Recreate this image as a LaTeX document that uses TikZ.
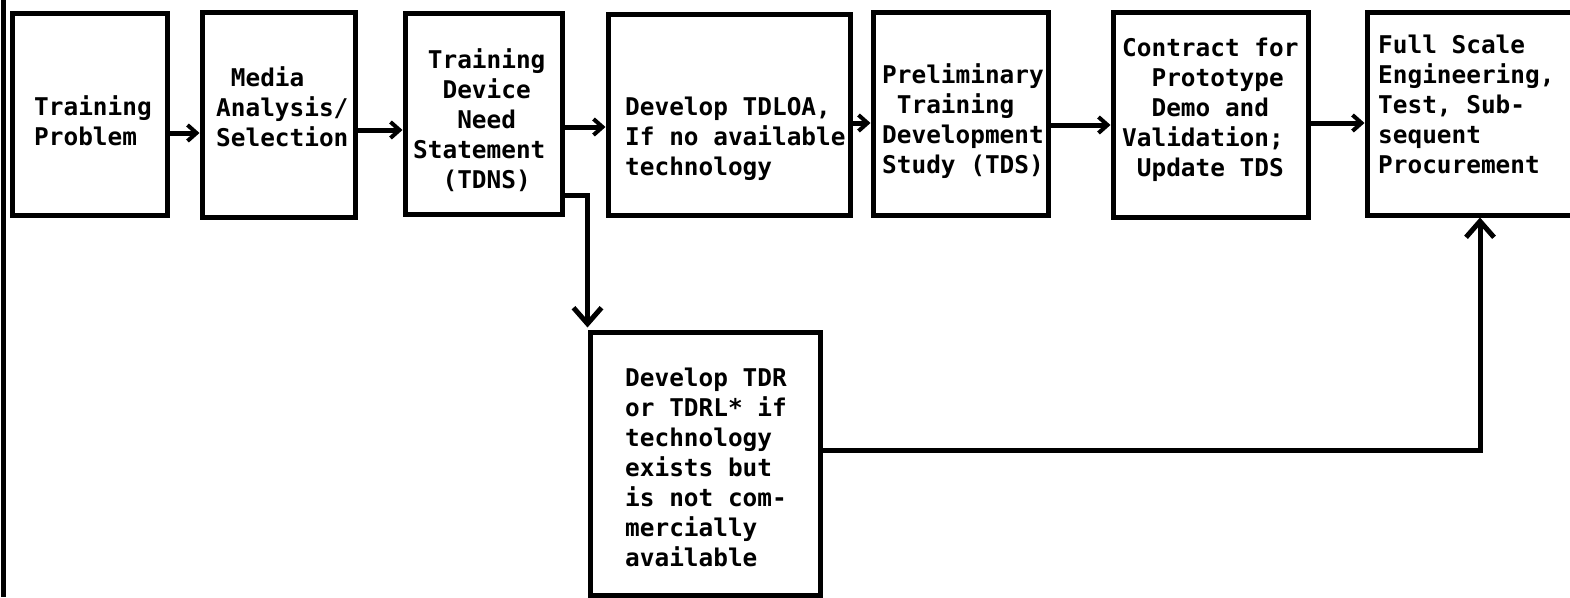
\documentclass[tikz,border=0pt]{standalone}
\usepackage{fontspec}
\newfontfamily\twfont{DejaVu Sans Mono}
\usetikzlibrary{arrows.meta}
\tikzset{
  box/.style={draw, line width=5pt, inner sep=0pt},
  txt/.style={font=\twfont\bfseries\fontsize{24.4pt}{30pt}\selectfont, align=left, inner sep=0pt, anchor=north west},
  arr/.style={line width=5pt, -{Straight Barb[length=9pt,width=16pt,line width=4pt]}},
  bigarr/.style={line width=5pt, -{Straight Barb[length=16pt,width=28pt,line width=5pt]}},
  edge/.style={line width=5pt}
}
\begin{document}
\begin{tikzpicture}[x=1pt,y=-1pt]
\useasboundingbox (0,0) rectangle (1570,597);
\clip (0,0) rectangle (1570,597);
% left margin rule
\draw[edge] (3,0) -- (3,597);
% boxes
\node[box, minimum width=155pt, minimum height=202pt] (b1) at (89.5,114) {};
\node[box, minimum width=153pt, minimum height=205pt] (b2) at (278.5,114.5) {};
\node[box, minimum width=157pt, minimum height=201pt] (b3) at (483.5,113.5) {};
\node[box, minimum width=242pt, minimum height=201pt] (b4) at (729,114.5) {};
\node[box, minimum width=175pt, minimum height=203pt] (b5) at (960.5,113.5) {};
\node[box, minimum width=195pt, minimum height=205pt] (b6) at (1210.5,114.5) {};
\node[box, minimum width=226pt, minimum height=203pt] (b7) at (1480,113.5) {};
\node[box, minimum width=230pt, minimum height=263pt] (b8) at (705,463.5) {};
% texts
\node[txt] (t1) at (34,94) {\strut Training\\Problem};
\node[txt] (t2) at (216,65) {\strut\phantom{M}Media\\Analysis/\\Selection};
\node[txt] (t3) at (413,47) {\strut\phantom{T}Training\\\phantom{TT}Device\\\phantom{TTT}Need\\Statement\\\phantom{TT}(TDNS)};
\node[txt] (t4) at (625,94) {\strut Develop TDLOA,\\If no available\\technology};
\node[txt] (t5) at (882,62) {\strut Preliminary\\\phantom{T}Training\\Development\\Study (TDS)};
\node[txt] (t6) at (1122,35) {\strut Contract for\\\phantom{TT}Prototype\\\phantom{TT}Demo and\\Validation;\\\phantom{T}Update TDS};
\node[txt] (t7) at (1378,32) {\strut Full Scale\\Engineering,\\Test, Sub-\\sequent\\Procurement};
\node[txt] (t8) at (625,365) {\strut Develop TDR\\or TDRL* if\\technology\\exists but\\is not com-\\mercially\\available};
% helper levels
\coordinate (y12) at (0,133);
\coordinate (y23) at (0,130);
\coordinate (y34) at (0,127);
\coordinate (y45) at (0,123);
\coordinate (y56) at (0,125);
\coordinate (y67) at (0,123);
\coordinate (yd) at (0,195);
\coordinate (yf) at (0,450);
% connectors
\draw[arr] (b1.east |- y12) -- (b2.west |- y12);
\draw[arr] (b2.east |- y23) -- (b3.west |- y23);
\draw[arr] (b3.east |- y34) -- (b4.west |- y34);
\draw[arr] (b4.east |- y45) -- (b5.west |- y45);
\draw[arr] (b5.east |- y56) -- (b6.west |- y56);
\draw[arr] (b6.east |- y67) -- (b7.west |- y67);
\draw[bigarr, shorten >=2pt] (b3.east |- yd) -| (b8.north west);
\draw[bigarr] (b8.east |- yf) -| (b7.south);
\end{tikzpicture}
\end{document}
